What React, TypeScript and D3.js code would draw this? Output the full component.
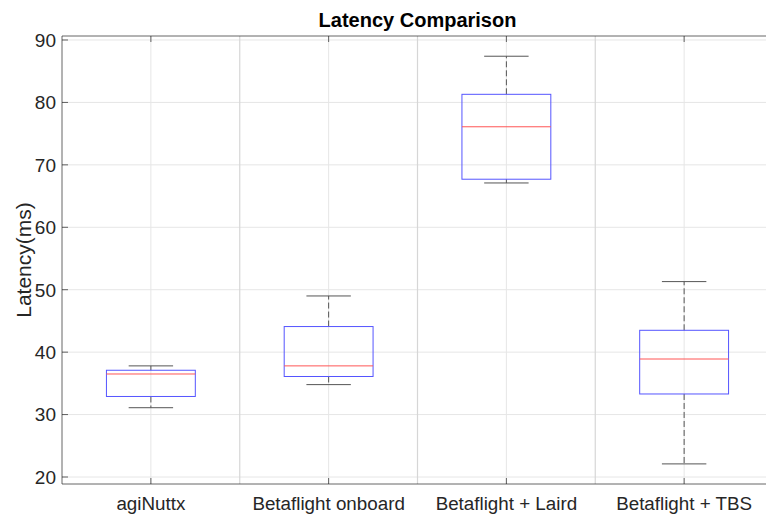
import { scaleLinear, scaleBand } from "d3"

const categories = ["agiNuttx", "Betaflight onboard", "Betaflight + Laird", "Betaflight + TBS"]
const lowerWhisker = [31.1, 34.8, 67.1, 22.1]
const q1 = [32.9, 36.1, 67.7, 33.3]
const median = [36.5, 37.8, 76.1, 38.9]
const q3 = [37.1, 44.1, 81.3, 43.5]
const upperWhisker = [37.8, 49.0, 87.4, 51.3]
const yTicks = [20, 30, 40, 50, 60, 70, 80, 90]

const W = 766
const H = 515
const left = 62
const right = 773
const top = 36
const bottom = 484
const font = "'Liberation Sans', Arial, sans-serif"
const textColor = "#262626"
const axisColor = "#262626"

export default function App() {
  const x = scaleBand<string>().domain(categories).range([left, right])
  const y = scaleLinear().domain([18.88, 90.64]).range([bottom, top])
  const bw = x.bandwidth()
  const boxHalf = bw * 0.25
  const capHalf = bw * 0.125

  return (
    <svg
      width={W}
      height={H}
      style={{ position: "absolute", left: 0, top: 0, background: "#fff" }}
      fontFamily={font}
    >
      {/* Horizontal grid */}
      {yTicks.map((t) => (
        <line key={t} x1={left} x2={right} y1={y(t)} y2={y(t)} stroke="#e6e6e6" strokeWidth={1} />
      ))}
      {/* Vertical grid at categories */}
      {categories.map((c) => {
        const cx = x(c)! + bw / 2
        return <line key={c} x1={cx} x2={cx} y1={top} y2={bottom} stroke="#e6e6e6" strokeWidth={1} />
      })}
      {/* Separators between groups */}
      {categories.slice(1).map((c) => (
        <line key={c} x1={x(c)!} x2={x(c)!} y1={top} y2={bottom} stroke="#d6d6d6" strokeWidth={1.2} />
      ))}

      {/* Boxes */}
      {categories.map((c, i) => {
        const cx = x(c)! + bw / 2
        return (
          <g key={c}>
            <line x1={cx} x2={cx} y1={y(q3[i])} y2={y(upperWhisker[i])} stroke="#555" strokeWidth={1} strokeDasharray="6,3" />
            <line x1={cx} x2={cx} y1={y(q1[i])} y2={y(lowerWhisker[i])} stroke="#555" strokeWidth={1} strokeDasharray="6,3" />
            <line x1={cx - capHalf} x2={cx + capHalf} y1={y(upperWhisker[i])} y2={y(upperWhisker[i])} stroke="#555" strokeWidth={1} />
            <line x1={cx - capHalf} x2={cx + capHalf} y1={y(lowerWhisker[i])} y2={y(lowerWhisker[i])} stroke="#555" strokeWidth={1} />
            <rect
              x={cx - boxHalf}
              y={y(q3[i])}
              width={boxHalf * 2}
              height={y(q1[i]) - y(q3[i])}
              fill="none"
              stroke="#5555ff"
              strokeWidth={1}
            />
            <line x1={cx - boxHalf} x2={cx + boxHalf} y1={y(median[i])} y2={y(median[i])} stroke="#ff5555" strokeWidth={1} />
          </g>
        )
      })}

      {/* Axes frame */}
      <line x1={left} x2={right} y1={top} y2={top} stroke={axisColor} strokeWidth={1} opacity={0.7} />
      <line x1={left} x2={right} y1={bottom} y2={bottom} stroke={axisColor} strokeWidth={1} opacity={0.7} />
      <line x1={left} x2={left} y1={top} y2={bottom} stroke={axisColor} strokeWidth={1} opacity={0.7} />

      {/* Y ticks */}
      {yTicks.map((t) => (
        <g key={t}>
          <line x1={left} x2={left + 6} y1={y(t)} y2={y(t)} stroke={axisColor} opacity={0.7} />
          <text x={56} y={y(t)} dy="0.36em" textAnchor="end" fontSize={19} fill={textColor}>
            {t}
          </text>
        </g>
      ))}

      {/* X ticks */}
      {categories.map((c) => {
        const cx = x(c)! + bw / 2
        return (
          <g key={c}>
            <line x1={cx} x2={cx} y1={bottom} y2={bottom - 6} stroke={axisColor} opacity={0.7} />
            <line x1={cx} x2={cx} y1={top} y2={top + 6} stroke={axisColor} opacity={0.7} />
            <text x={cx} y={510} textAnchor="middle" fontSize={18.8} fill={textColor}>
              {c}
            </text>
          </g>
        )
      })}

      {/* Labels */}
      <text x={(left + right) / 2} y={27} textAnchor="middle" fontSize={20} fontWeight="bold" fill="#000">
        Latency Comparison
      </text>
      <text
        transform={`translate(31,${(top + bottom) / 2}) rotate(-90)`}
        textAnchor="middle"
        fontSize={21}
        fill={textColor}
      >
        Latency(ms)
      </text>
    </svg>
  )
}
